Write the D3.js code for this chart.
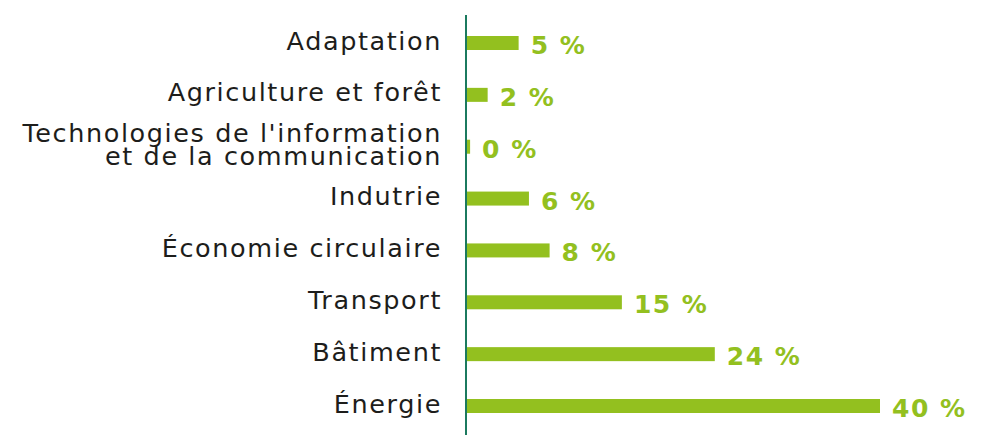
<!DOCTYPE html>
<html>
<head>
<meta charset="utf-8">
<script src="https://cdn.jsdelivr.net/npm/d3@7"></script>
<style>
  body { margin: 0; background: #fff; }
  svg { display: block; }
</style>
</head>
<body>
<div id="chart"></div>
<script>
const categories = [
    "Adaptation",
    "Agriculture et forêt",
    "Technologies de l'information|et de la communication",
    "Indutrie",
    "Économie circulaire",
    "Transport",
    "Bâtiment",
    "Énergie"
];
const values = [5, 2, 0.3, 6, 8, 15, 24, 40];
const valueLabels = ["5 %", "2 %", "0 %", "6 %", "8 %", "15 %", "24 %", "40 %"];

const width = 993, height = 437;
const x0 = 467;

const svg = d3.select("#chart").append("svg")
    .attr("width", width)
    .attr("height", height);

const x = d3.scaleLinear()
    .domain([0, 40])
    .range([x0, 880]);

const y = d3.scalePoint()
    .domain(categories)
    .range([43, 406]);

const barH = 14;

svg.selectAll(".bar")
    .data(categories)
    .enter().append("rect")
    .attr("class", "bar")
    .attr("x", x0)
    .attr("y", d => y(d) - barH / 2)
    .attr("width", (d, i) => x(values[i]) - x0)
    .attr("height", barH)
    .attr("fill", "#93c01f");

// category labels (2-line label split on "|")
const labels = svg.selectAll(".cat")
    .data(categories)
    .enter().append("text")
    .attr("class", "cat")
    .attr("text-anchor", "end")
    .attr("font-family", "'DejaVu Sans', sans-serif")
    .attr("font-size", "25.5px")
    .attr("letter-spacing", "1.6px")
    .attr("fill", "#1d1d1b");

labels.each(function(d) {
    const lines = d.split("|");
    const t = d3.select(this);
    const cy = y(d);
    const off = lines.length > 1 ? 6.5 : 6.5;
    lines.forEach((line, j) => {
        t.append("tspan")
            .attr("x", 442)
            .attr("y", cy + off + (j - (lines.length - 1) / 2) * 23)
            .text(line);
    });
});

// value labels
svg.selectAll(".val")
    .data(categories)
    .enter().append("text")
    .attr("class", "val")
    .attr("x", (d, i) => x(values[i]) + 12)
    .attr("y", d => y(d) + 11)
    .attr("font-family", "'DejaVu Sans', sans-serif")
    .attr("font-weight", "bold")
    .attr("font-size", "25px")
    .attr("letter-spacing", "1.5px")
    .attr("fill", "#93c01f")
    .text((d, i) => valueLabels[i]);

// axis line
svg.append("line")
    .attr("x1", 466).attr("x2", 466)
    .attr("y1", 15).attr("y2", 435)
    .attr("stroke", "#1b7a5f")
    .attr("stroke-width", 2);
</script>
</body>
</html>
